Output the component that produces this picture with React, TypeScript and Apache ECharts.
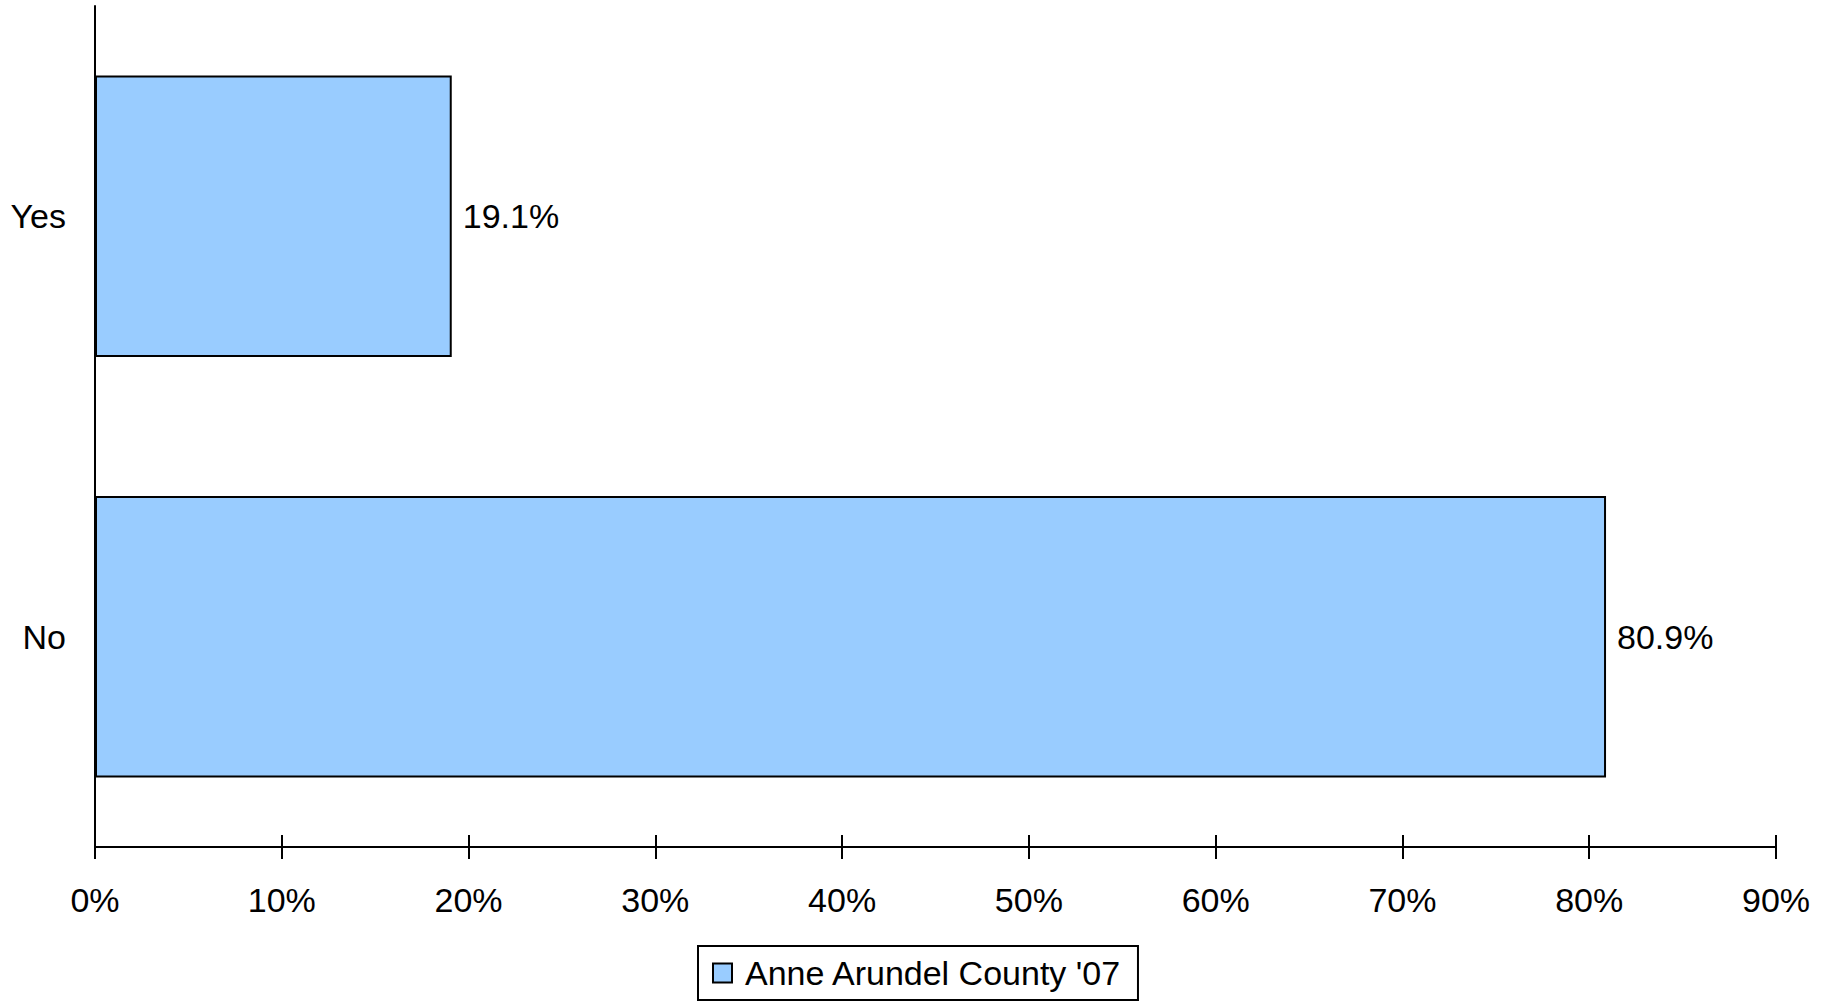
import React, { useEffect, useRef } from "react";
import * as echarts from "echarts";

// Survey answers and their shares (percent)
const categories = ["No", "Yes"];
const seriesName = "Anne Arundel County '07";
const shares = [80.9, 19.1];
const axisMax = 90;
const axisStep = 10;

const FONT = "'Liberation Sans', Arial, sans-serif";

export default function App() {
  const ref = useRef<HTMLDivElement>(null);

  useEffect(() => {
    document.body.style.margin = "0";
    const chart = echarts.init(ref.current!, null, { renderer: "svg" });
    const valueAxisBase = {
      type: "value" as const,
      position: "bottom" as const,
      min: 0,
      max: axisMax,
      interval: axisStep,
      splitLine: { show: false },
    };
    chart.setOption({
      animation: false,
      backgroundColor: "#ffffff",
      textStyle: { fontFamily: FONT, color: "#000" },
      grid: { left: 95, right: 57, top: 6, bottom: 155, containLabel: false },
      legend: {
        show: true,
        left: 698,
        top: 946,
        orient: "horizontal",
        data: [seriesName],
        icon: "rect",
        itemWidth: 19,
        itemHeight: 19,
        padding: [10, 16, 10, 14],
        borderColor: "#000",
        borderWidth: 2,
        backgroundColor: "#fff",
        textStyle: {
          fontFamily: FONT,
          fontSize: 34,
          color: "#000",
          padding: [0, 0, 0, 8],
        },
      },
      xAxis: [
        {
          ...valueAxisBase,
          axisLine: { show: true, lineStyle: { color: "#000", width: 2 } },
          axisTick: { show: true, length: 12, lineStyle: { color: "#000", width: 2 } },
          axisLabel: {
            show: true,
            margin: 36,
            fontFamily: FONT,
            fontSize: 34,
            color: "#000",
            formatter: "{value}%",
          },
        },
        {
          ...valueAxisBase,
          axisLine: { show: false },
          axisTick: { show: true, inside: true, length: 12, lineStyle: { color: "#000", width: 2 } },
          axisLabel: { show: false },
        },
      ],
      yAxis: {
        type: "category",
        data: categories,
        axisLine: { show: true, lineStyle: { color: "#000", width: 2 } },
        axisTick: { show: false },
        axisLabel: { margin: 29, fontFamily: FONT, fontSize: 34, color: "#000" },
        splitLine: { show: false },
      },
      series: [
        {
          name: seriesName,
          type: "bar",
          xAxisIndex: 0,
          data: shares,
          barCategoryGap: "33%",
          itemStyle: { color: "#99CCFF", borderColor: "#000", borderWidth: 2 },
          label: {
            show: true,
            position: "right",
            distance: 11,
            formatter: "{c}%",
            fontFamily: FONT,
            fontSize: 34,
            color: "#000",
          },
        },
      ],
    });
    return () => chart.dispose();
  }, []);

  return <div ref={ref} style={{ width: 1833, height: 1002 }} />;
}
